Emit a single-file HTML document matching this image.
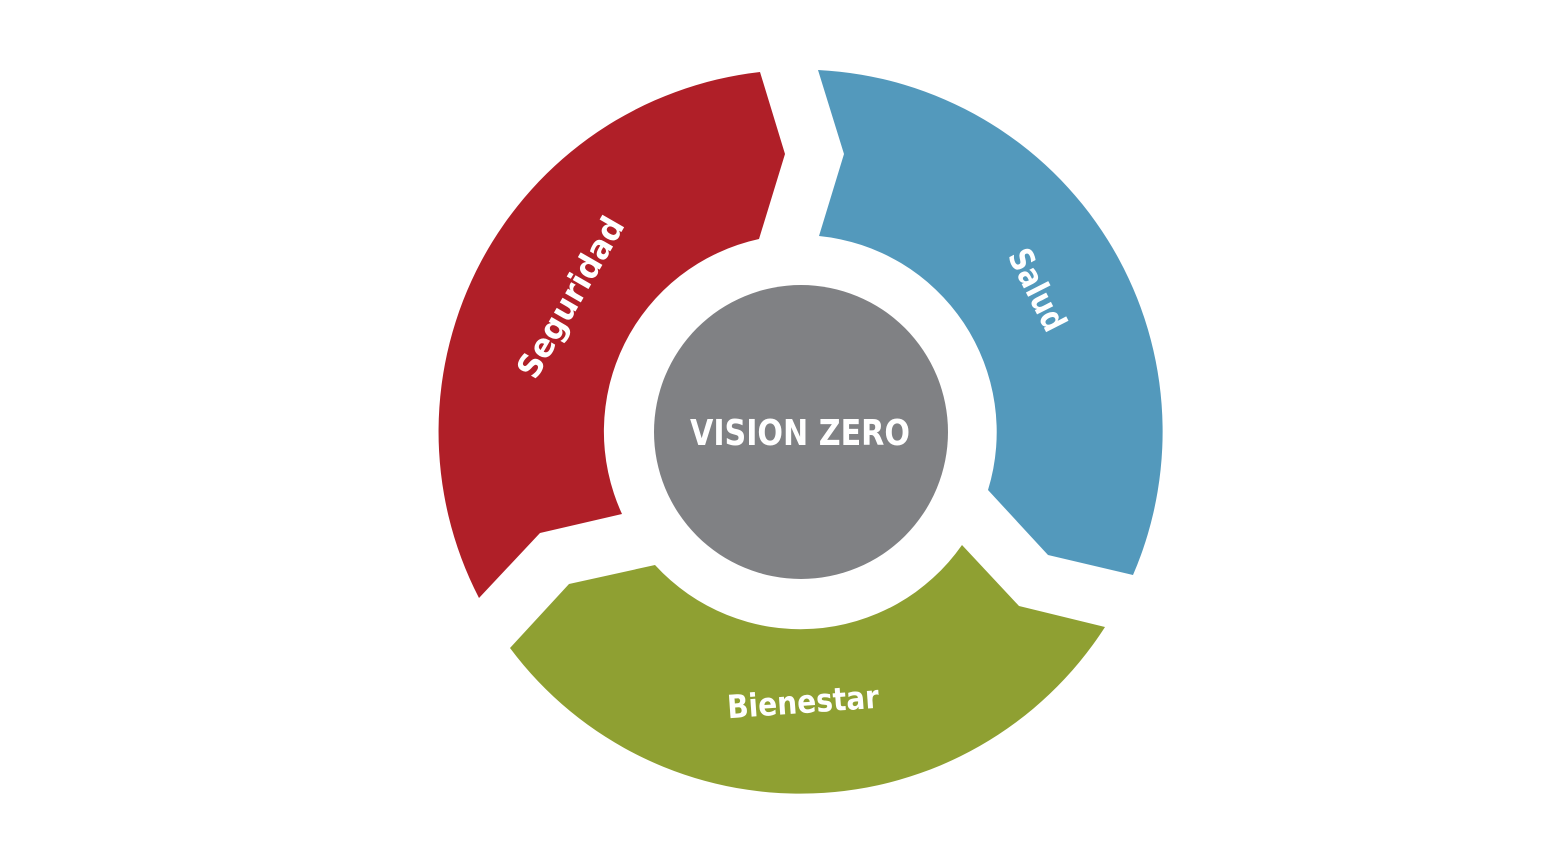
<!DOCTYPE html>
<html><head><style>
html,body{margin:0;padding:0;background:#fff;}
svg{display:block}
text{font-family:"DejaVu Sans Condensed","Liberation Sans",sans-serif;font-weight:bold;fill:#fff}
</style></head><body>
<svg width="1553" height="848" viewBox="0 0 1553 848">
<path d="M479,598 A362,362 0 0 1 760,72 L785,154 L759,239 A197,197 0 0 0 622,514 L540,533 Z" fill="#b01f28"/>
<path d="M818,70 A362,362 0 0 1 1133,575 L1048,555 L988,490 A197,197 0 0 0 819,236 L844,154 Z" fill="#5399bc"/>
<path d="M1105,627 A362,362 0 0 1 510,648 L569,584 L655,565 A197,197 0 0 0 962,545 L1019,606 Z" fill="#8fa032"/>
<circle cx="801" cy="432" r="147" fill="#808184"/>
<text x="690" y="445" font-size="36" textLength="220" lengthAdjust="spacingAndGlyphs">VISION ZERO</text>
<text x="480" y="309" font-size="33" textLength="180" lengthAdjust="spacingAndGlyphs" transform="rotate(-60 570 297)">Seguridad</text>
<text x="993" y="301" font-size="33" textLength="88" lengthAdjust="spacingAndGlyphs" transform="rotate(63 1037 290)">Salud</text>
<text x="727" y="713" font-size="32" textLength="152" lengthAdjust="spacingAndGlyphs" transform="rotate(-4 803 702)">Bienestar</text>
</svg>
</body></html>
